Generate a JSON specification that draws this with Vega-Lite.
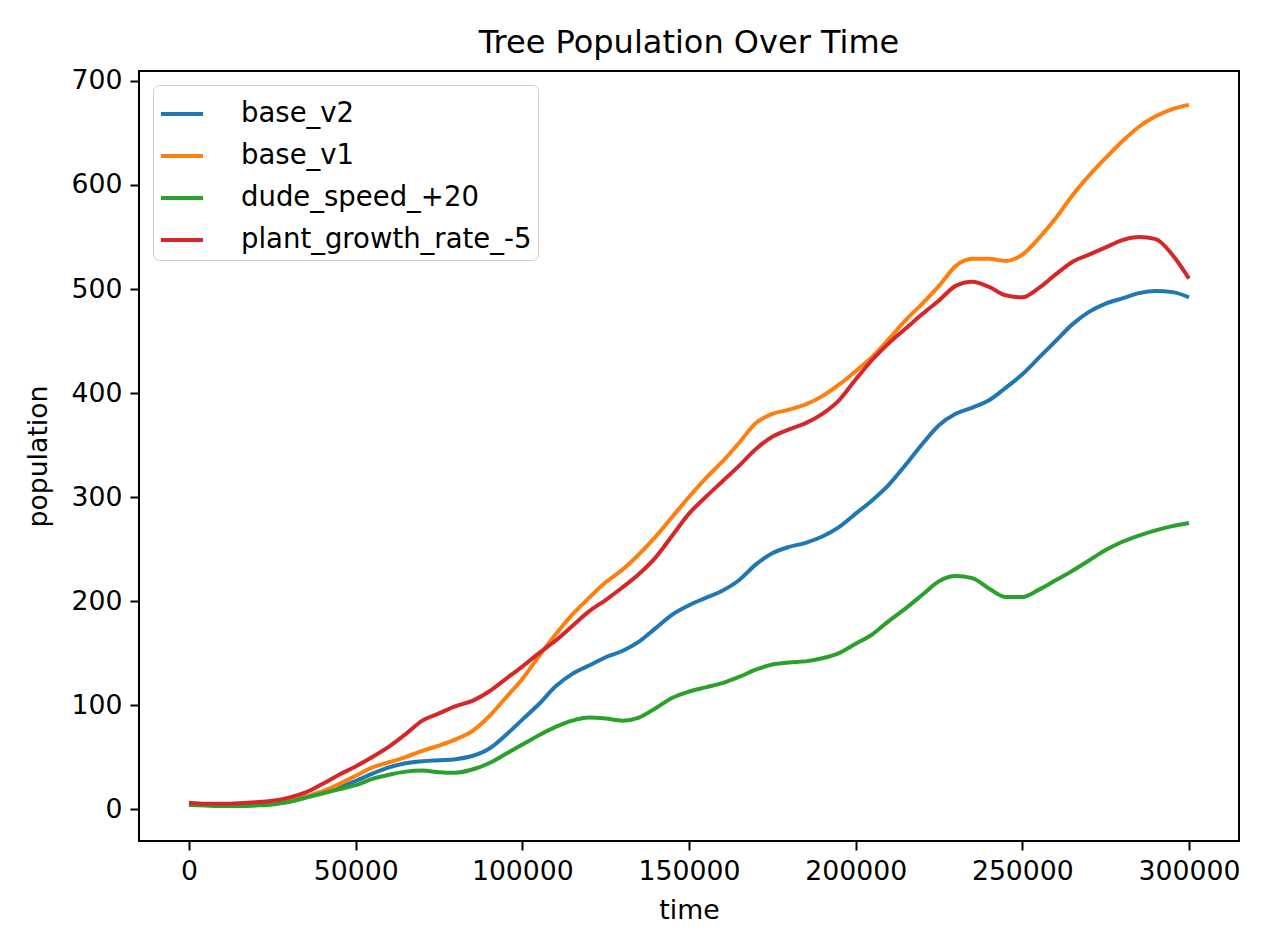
{
  "$schema": "https://vega.github.io/schema/vega-lite/v6.json",
  "width": 1100,
  "height": 770,
  "autosize": {"type": "none"},
  "padding": {"left": 139, "top": 71, "right": 31, "bottom": 109},
  "background": "white",
  "config": {
    "font": "DejaVu Sans",
    "view": {"stroke": "black", "strokeWidth": 2},
    "axis": {
      "labelFontSize": 26.7,
      "labelColor": "black",
      "titleFontSize": 26.7,
      "titleFontWeight": "normal",
      "titleColor": "black",
      "grid": false,
      "domain": false,
      "ticks": true,
      "tickColor": "black",
      "tickSize": 9,
      "tickWidth": 2,
      "labelPadding": 8
    }
  },
  "title": {
    "text": "Tree Population Over Time",
    "fontSize": 32,
    "fontWeight": "normal",
    "color": "black",
    "anchor": "middle",
    "offset": 8
  },
  "data": {
    "values": [
      {"series": "base_v2", "time": 0, "population": 5},
      {"series": "base_v2", "time": 5000, "population": 4},
      {"series": "base_v2", "time": 10000, "population": 3.5},
      {"series": "base_v2", "time": 15000, "population": 3.5},
      {"series": "base_v2", "time": 20000, "population": 4},
      {"series": "base_v2", "time": 25000, "population": 5},
      {"series": "base_v2", "time": 30000, "population": 7},
      {"series": "base_v2", "time": 35000, "population": 11},
      {"series": "base_v2", "time": 40000, "population": 16},
      {"series": "base_v2", "time": 45000, "population": 21},
      {"series": "base_v2", "time": 50000, "population": 27},
      {"series": "base_v2", "time": 55000, "population": 34},
      {"series": "base_v2", "time": 60000, "population": 40},
      {"series": "base_v2", "time": 65000, "population": 44},
      {"series": "base_v2", "time": 70000, "population": 46},
      {"series": "base_v2", "time": 75000, "population": 47},
      {"series": "base_v2", "time": 80000, "population": 48},
      {"series": "base_v2", "time": 85000, "population": 51},
      {"series": "base_v2", "time": 90000, "population": 58},
      {"series": "base_v2", "time": 95000, "population": 71},
      {"series": "base_v2", "time": 100000, "population": 86},
      {"series": "base_v2", "time": 105000, "population": 101},
      {"series": "base_v2", "time": 110000, "population": 118},
      {"series": "base_v2", "time": 115000, "population": 130},
      {"series": "base_v2", "time": 120000, "population": 138},
      {"series": "base_v2", "time": 125000, "population": 146},
      {"series": "base_v2", "time": 130000, "population": 152},
      {"series": "base_v2", "time": 135000, "population": 161},
      {"series": "base_v2", "time": 140000, "population": 174},
      {"series": "base_v2", "time": 145000, "population": 187},
      {"series": "base_v2", "time": 150000, "population": 196},
      {"series": "base_v2", "time": 155000, "population": 203},
      {"series": "base_v2", "time": 160000, "population": 210},
      {"series": "base_v2", "time": 165000, "population": 220},
      {"series": "base_v2", "time": 170000, "population": 235},
      {"series": "base_v2", "time": 175000, "population": 246},
      {"series": "base_v2", "time": 180000, "population": 252},
      {"series": "base_v2", "time": 185000, "population": 256},
      {"series": "base_v2", "time": 190000, "population": 262},
      {"series": "base_v2", "time": 195000, "population": 271},
      {"series": "base_v2", "time": 200000, "population": 284},
      {"series": "base_v2", "time": 205000, "population": 297},
      {"series": "base_v2", "time": 210000, "population": 312},
      {"series": "base_v2", "time": 215000, "population": 331},
      {"series": "base_v2", "time": 220000, "population": 351},
      {"series": "base_v2", "time": 225000, "population": 369},
      {"series": "base_v2", "time": 230000, "population": 380},
      {"series": "base_v2", "time": 235000, "population": 386},
      {"series": "base_v2", "time": 240000, "population": 393},
      {"series": "base_v2", "time": 245000, "population": 405},
      {"series": "base_v2", "time": 250000, "population": 418},
      {"series": "base_v2", "time": 255000, "population": 434},
      {"series": "base_v2", "time": 260000, "population": 450},
      {"series": "base_v2", "time": 265000, "population": 466},
      {"series": "base_v2", "time": 270000, "population": 478},
      {"series": "base_v2", "time": 275000, "population": 486},
      {"series": "base_v2", "time": 280000, "population": 491},
      {"series": "base_v2", "time": 285000, "population": 496},
      {"series": "base_v2", "time": 290000, "population": 498},
      {"series": "base_v2", "time": 295000, "population": 497},
      {"series": "base_v2", "time": 300000, "population": 492},

      {"series": "base_v1", "time": 0, "population": 5},
      {"series": "base_v1", "time": 5000, "population": 4.5},
      {"series": "base_v1", "time": 10000, "population": 4},
      {"series": "base_v1", "time": 15000, "population": 4},
      {"series": "base_v1", "time": 20000, "population": 5},
      {"series": "base_v1", "time": 25000, "population": 6},
      {"series": "base_v1", "time": 30000, "population": 8},
      {"series": "base_v1", "time": 35000, "population": 12},
      {"series": "base_v1", "time": 40000, "population": 17},
      {"series": "base_v1", "time": 45000, "population": 24},
      {"series": "base_v1", "time": 50000, "population": 32},
      {"series": "base_v1", "time": 55000, "population": 40},
      {"series": "base_v1", "time": 60000, "population": 45},
      {"series": "base_v1", "time": 65000, "population": 50},
      {"series": "base_v1", "time": 70000, "population": 56},
      {"series": "base_v1", "time": 75000, "population": 61},
      {"series": "base_v1", "time": 80000, "population": 67},
      {"series": "base_v1", "time": 85000, "population": 75},
      {"series": "base_v1", "time": 90000, "population": 89},
      {"series": "base_v1", "time": 95000, "population": 107},
      {"series": "base_v1", "time": 100000, "population": 125},
      {"series": "base_v1", "time": 105000, "population": 147},
      {"series": "base_v1", "time": 110000, "population": 168},
      {"series": "base_v1", "time": 115000, "population": 187},
      {"series": "base_v1", "time": 120000, "population": 203},
      {"series": "base_v1", "time": 125000, "population": 218},
      {"series": "base_v1", "time": 130000, "population": 230},
      {"series": "base_v1", "time": 135000, "population": 245},
      {"series": "base_v1", "time": 140000, "population": 262},
      {"series": "base_v1", "time": 145000, "population": 281},
      {"series": "base_v1", "time": 150000, "population": 300},
      {"series": "base_v1", "time": 155000, "population": 318},
      {"series": "base_v1", "time": 160000, "population": 334},
      {"series": "base_v1", "time": 165000, "population": 352},
      {"series": "base_v1", "time": 170000, "population": 371},
      {"series": "base_v1", "time": 175000, "population": 380},
      {"series": "base_v1", "time": 180000, "population": 384},
      {"series": "base_v1", "time": 185000, "population": 389},
      {"series": "base_v1", "time": 190000, "population": 397},
      {"series": "base_v1", "time": 195000, "population": 408},
      {"series": "base_v1", "time": 200000, "population": 421},
      {"series": "base_v1", "time": 205000, "population": 435},
      {"series": "base_v1", "time": 210000, "population": 452},
      {"series": "base_v1", "time": 215000, "population": 470},
      {"series": "base_v1", "time": 220000, "population": 486},
      {"series": "base_v1", "time": 225000, "population": 503},
      {"series": "base_v1", "time": 230000, "population": 522},
      {"series": "base_v1", "time": 235000, "population": 529},
      {"series": "base_v1", "time": 240000, "population": 529},
      {"series": "base_v1", "time": 245000, "population": 527},
      {"series": "base_v1", "time": 250000, "population": 533},
      {"series": "base_v1", "time": 255000, "population": 549},
      {"series": "base_v1", "time": 260000, "population": 568},
      {"series": "base_v1", "time": 265000, "population": 590},
      {"series": "base_v1", "time": 270000, "population": 609},
      {"series": "base_v1", "time": 275000, "population": 626},
      {"series": "base_v1", "time": 280000, "population": 642},
      {"series": "base_v1", "time": 285000, "population": 656},
      {"series": "base_v1", "time": 290000, "population": 666},
      {"series": "base_v1", "time": 295000, "population": 673},
      {"series": "base_v1", "time": 300000, "population": 677},

      {"series": "dude_speed_+20", "time": 0, "population": 4},
      {"series": "dude_speed_+20", "time": 5000, "population": 3.5},
      {"series": "dude_speed_+20", "time": 10000, "population": 3},
      {"series": "dude_speed_+20", "time": 15000, "population": 3},
      {"series": "dude_speed_+20", "time": 20000, "population": 3.5},
      {"series": "dude_speed_+20", "time": 25000, "population": 4.5},
      {"series": "dude_speed_+20", "time": 30000, "population": 7},
      {"series": "dude_speed_+20", "time": 35000, "population": 11},
      {"series": "dude_speed_+20", "time": 40000, "population": 15},
      {"series": "dude_speed_+20", "time": 45000, "population": 19},
      {"series": "dude_speed_+20", "time": 50000, "population": 23},
      {"series": "dude_speed_+20", "time": 55000, "population": 29},
      {"series": "dude_speed_+20", "time": 60000, "population": 33},
      {"series": "dude_speed_+20", "time": 65000, "population": 36},
      {"series": "dude_speed_+20", "time": 70000, "population": 37},
      {"series": "dude_speed_+20", "time": 75000, "population": 35.5},
      {"series": "dude_speed_+20", "time": 80000, "population": 35},
      {"series": "dude_speed_+20", "time": 85000, "population": 38},
      {"series": "dude_speed_+20", "time": 90000, "population": 44},
      {"series": "dude_speed_+20", "time": 95000, "population": 53},
      {"series": "dude_speed_+20", "time": 100000, "population": 62},
      {"series": "dude_speed_+20", "time": 105000, "population": 71},
      {"series": "dude_speed_+20", "time": 110000, "population": 79},
      {"series": "dude_speed_+20", "time": 115000, "population": 85},
      {"series": "dude_speed_+20", "time": 120000, "population": 88},
      {"series": "dude_speed_+20", "time": 125000, "population": 87},
      {"series": "dude_speed_+20", "time": 130000, "population": 85},
      {"series": "dude_speed_+20", "time": 135000, "population": 88},
      {"series": "dude_speed_+20", "time": 140000, "population": 97},
      {"series": "dude_speed_+20", "time": 145000, "population": 107},
      {"series": "dude_speed_+20", "time": 150000, "population": 113},
      {"series": "dude_speed_+20", "time": 155000, "population": 117},
      {"series": "dude_speed_+20", "time": 160000, "population": 121},
      {"series": "dude_speed_+20", "time": 165000, "population": 127},
      {"series": "dude_speed_+20", "time": 170000, "population": 134},
      {"series": "dude_speed_+20", "time": 175000, "population": 139},
      {"series": "dude_speed_+20", "time": 180000, "population": 141},
      {"series": "dude_speed_+20", "time": 185000, "population": 142},
      {"series": "dude_speed_+20", "time": 190000, "population": 145},
      {"series": "dude_speed_+20", "time": 195000, "population": 150},
      {"series": "dude_speed_+20", "time": 200000, "population": 159},
      {"series": "dude_speed_+20", "time": 205000, "population": 168},
      {"series": "dude_speed_+20", "time": 210000, "population": 181},
      {"series": "dude_speed_+20", "time": 215000, "population": 193},
      {"series": "dude_speed_+20", "time": 220000, "population": 206},
      {"series": "dude_speed_+20", "time": 225000, "population": 219},
      {"series": "dude_speed_+20", "time": 230000, "population": 224},
      {"series": "dude_speed_+20", "time": 235000, "population": 222},
      {"series": "dude_speed_+20", "time": 240000, "population": 212},
      {"series": "dude_speed_+20", "time": 245000, "population": 204},
      {"series": "dude_speed_+20", "time": 250000, "population": 204},
      {"series": "dude_speed_+20", "time": 255000, "population": 211},
      {"series": "dude_speed_+20", "time": 260000, "population": 220},
      {"series": "dude_speed_+20", "time": 265000, "population": 229},
      {"series": "dude_speed_+20", "time": 270000, "population": 239},
      {"series": "dude_speed_+20", "time": 275000, "population": 249},
      {"series": "dude_speed_+20", "time": 280000, "population": 257},
      {"series": "dude_speed_+20", "time": 285000, "population": 263},
      {"series": "dude_speed_+20", "time": 290000, "population": 268},
      {"series": "dude_speed_+20", "time": 295000, "population": 272},
      {"series": "dude_speed_+20", "time": 300000, "population": 275},

      {"series": "plant_growth_rate_-5", "time": 0, "population": 6},
      {"series": "plant_growth_rate_-5", "time": 5000, "population": 5},
      {"series": "plant_growth_rate_-5", "time": 10000, "population": 5},
      {"series": "plant_growth_rate_-5", "time": 15000, "population": 5.5},
      {"series": "plant_growth_rate_-5", "time": 20000, "population": 6.5},
      {"series": "plant_growth_rate_-5", "time": 25000, "population": 8},
      {"series": "plant_growth_rate_-5", "time": 30000, "population": 11},
      {"series": "plant_growth_rate_-5", "time": 35000, "population": 16},
      {"series": "plant_growth_rate_-5", "time": 40000, "population": 24},
      {"series": "plant_growth_rate_-5", "time": 45000, "population": 33},
      {"series": "plant_growth_rate_-5", "time": 50000, "population": 41},
      {"series": "plant_growth_rate_-5", "time": 55000, "population": 50},
      {"series": "plant_growth_rate_-5", "time": 60000, "population": 60},
      {"series": "plant_growth_rate_-5", "time": 65000, "population": 72},
      {"series": "plant_growth_rate_-5", "time": 70000, "population": 85},
      {"series": "plant_growth_rate_-5", "time": 75000, "population": 92},
      {"series": "plant_growth_rate_-5", "time": 80000, "population": 99},
      {"series": "plant_growth_rate_-5", "time": 85000, "population": 104},
      {"series": "plant_growth_rate_-5", "time": 90000, "population": 113},
      {"series": "plant_growth_rate_-5", "time": 95000, "population": 125},
      {"series": "plant_growth_rate_-5", "time": 100000, "population": 137},
      {"series": "plant_growth_rate_-5", "time": 105000, "population": 150},
      {"series": "plant_growth_rate_-5", "time": 110000, "population": 162},
      {"series": "plant_growth_rate_-5", "time": 115000, "population": 176},
      {"series": "plant_growth_rate_-5", "time": 120000, "population": 190},
      {"series": "plant_growth_rate_-5", "time": 125000, "population": 201},
      {"series": "plant_growth_rate_-5", "time": 130000, "population": 213},
      {"series": "plant_growth_rate_-5", "time": 135000, "population": 226},
      {"series": "plant_growth_rate_-5", "time": 140000, "population": 242},
      {"series": "plant_growth_rate_-5", "time": 145000, "population": 263},
      {"series": "plant_growth_rate_-5", "time": 150000, "population": 284},
      {"series": "plant_growth_rate_-5", "time": 155000, "population": 300},
      {"series": "plant_growth_rate_-5", "time": 160000, "population": 315},
      {"series": "plant_growth_rate_-5", "time": 165000, "population": 330},
      {"series": "plant_growth_rate_-5", "time": 170000, "population": 346},
      {"series": "plant_growth_rate_-5", "time": 175000, "population": 358},
      {"series": "plant_growth_rate_-5", "time": 180000, "population": 365},
      {"series": "plant_growth_rate_-5", "time": 185000, "population": 371},
      {"series": "plant_growth_rate_-5", "time": 190000, "population": 380},
      {"series": "plant_growth_rate_-5", "time": 195000, "population": 393},
      {"series": "plant_growth_rate_-5", "time": 200000, "population": 413},
      {"series": "plant_growth_rate_-5", "time": 205000, "population": 432},
      {"series": "plant_growth_rate_-5", "time": 210000, "population": 448},
      {"series": "plant_growth_rate_-5", "time": 215000, "population": 462},
      {"series": "plant_growth_rate_-5", "time": 220000, "population": 476},
      {"series": "plant_growth_rate_-5", "time": 225000, "population": 489},
      {"series": "plant_growth_rate_-5", "time": 230000, "population": 503},
      {"series": "plant_growth_rate_-5", "time": 235000, "population": 507},
      {"series": "plant_growth_rate_-5", "time": 240000, "population": 502},
      {"series": "plant_growth_rate_-5", "time": 245000, "population": 494},
      {"series": "plant_growth_rate_-5", "time": 250000, "population": 492},
      {"series": "plant_growth_rate_-5", "time": 255000, "population": 501},
      {"series": "plant_growth_rate_-5", "time": 260000, "population": 514},
      {"series": "plant_growth_rate_-5", "time": 265000, "population": 526},
      {"series": "plant_growth_rate_-5", "time": 270000, "population": 533},
      {"series": "plant_growth_rate_-5", "time": 275000, "population": 540},
      {"series": "plant_growth_rate_-5", "time": 280000, "population": 547},
      {"series": "plant_growth_rate_-5", "time": 285000, "population": 550},
      {"series": "plant_growth_rate_-5", "time": 290000, "population": 548},
      {"series": "plant_growth_rate_-5", "time": 295000, "population": 533},
      {"series": "plant_growth_rate_-5", "time": 300000, "population": 510}
    ]
  },
  "mark": {"type": "line", "interpolate": "monotone", "strokeWidth": 4, "strokeCap": "butt"},
  "encoding": {
    "x": {
      "field": "time",
      "type": "quantitative",
      "scale": {"domain": [-15000, 315000], "nice": false, "zero": false},
      "axis": {
        "values": [0, 50000, 100000, 150000, 200000, 250000, 300000],
        "format": "d",
        "title": "time",
        "titlePadding": 13
      }
    },
    "y": {
      "field": "population",
      "type": "quantitative",
      "scale": {"domain": [-30.7, 709.6], "nice": false, "zero": false},
      "axis": {
        "values": [0, 100, 200, 300, 400, 500, 600, 700],
        "format": "d",
        "title": "population",
        "titlePadding": 19
      }
    },
    "color": {
      "field": "series",
      "type": "nominal",
      "scale": {
        "domain": ["base_v2", "base_v1", "dude_speed_+20", "plant_growth_rate_-5"],
        "range": ["#1f77b4", "#ff7f0e", "#2ca02c", "#d62728"]
      },
      "legend": {
        "orient": "none",
        "legendX": 14,
        "legendY": 14,
        "title": null,
        "symbolType": "stroke",
        "symbolSize": 1764,
        "symbolStrokeWidth": 4,
        "labelFontSize": 27.5,
        "labelColor": "black",
        "labelLimit": 500,
        "labelOffset": 36,
        "rowPadding": 5,
        "padding": 6,
        "fillColor": "rgba(255,255,255,0.8)",
        "strokeColor": "#cccccc",
        "cornerRadius": 6
      }
    }
  }
}
